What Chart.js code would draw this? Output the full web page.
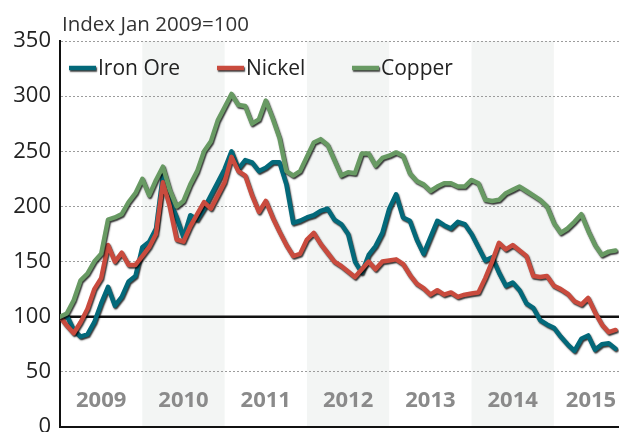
<!DOCTYPE html>
<html>
<head>
<meta charset="utf-8">
<script src="https://cdn.jsdelivr.net/npm/chart.js@4.4.0/dist/chart.umd.min.js"></script>
<style>
    html, body { margin: 0; padding: 0; background: #fff; }
</style>
</head>
<body>
<canvas id="metalsChart" width="619" height="432"></canvas>
<script>
// Données : indice mensuel, janv. 2009 = 100
const years = ['2009', '2010', '2011', '2012', '2013', '2014', '2015'];
const seriesNames = ['Iron Ore', 'Nickel', 'Copper'];
const yTicks = [0, 50, 100, 150, 200, 250, 300, 350];
const titleText = 'Index Jan 2009=100';

const ironOre = [
    100, 101, 88, 82, 84, 95, 112, 127, 110, 118, 132, 137,
    163, 168, 180, 228, 205, 190, 172, 192, 188, 198, 210, 222,
    234, 250, 234, 242, 240, 232, 235, 240, 240, 220, 185, 187,
    190, 192, 196, 198, 188, 184, 175, 150, 140, 156, 164, 176,
    198, 211, 190, 187, 170, 157, 172, 187, 183, 180, 186, 184,
    175, 163, 151, 154, 140, 128, 131, 124, 112, 108, 97, 93,
    90, 82, 75, 69, 80, 83, 70, 75, 76, 71
];
const nickel = [
    100, 92, 85, 95, 107, 125, 135, 165, 150, 158, 147, 147,
    155, 163, 175, 222, 200, 170, 168, 182, 193, 204, 198, 210,
    222, 245, 232, 228, 210, 195, 205, 190, 177, 165, 155, 157,
    170, 176, 166, 158, 150, 146, 141, 136, 143, 150, 143, 150,
    151, 152, 148, 138, 130, 126, 120, 124, 120, 122, 118, 120,
    121, 122, 135, 150, 167, 161, 165, 160, 155, 137, 136, 137,
    128, 125, 121, 114, 111, 117, 104, 93, 86, 88
];
const copper = [
    100, 103, 115, 133, 139, 150, 157, 188, 190, 193, 204, 212,
    225, 210, 224, 236, 215, 200, 205, 220, 232, 250, 259, 278,
    290, 302, 292, 291, 275, 279, 296, 280, 262, 232, 228, 232,
    245, 258, 261, 256, 242, 228, 231, 230, 248, 248, 237, 244,
    246, 249, 246, 230, 223, 220, 214, 218, 221, 221, 218, 218,
    224, 221, 206, 205, 206, 212, 215, 218, 214, 210, 206, 200,
    185, 176, 180, 186, 193, 178, 165, 156, 159, 160
];

const colors = ['#03697a', '#c94b3e', '#689a63'];

Chart.defaults.font.family = '"Open Sans", sans-serif';

// Ombre portée sous les courbes
const lineShadow = {
    id: 'lineShadow',
    beforeDatasetDraw(chart) {
        const ctx = chart.ctx;
        ctx.save();
        ctx.shadowColor = 'rgba(0, 0, 0, 0.8)';
        ctx.shadowBlur = 1.5;
        ctx.shadowOffsetX = 1;
        ctx.shadowOffsetY = 1.5;
    },
    afterDatasetDraw(chart) {
        chart.ctx.restore();
    }
};

// Bandes des années, ligne 100, libellés, légende, titre
const decor = {
    id: 'decor',
    beforeDraw(chart) {
        const { ctx, chartArea: a, scales: { x } } = chart;
        ctx.save();
        ctx.fillStyle = '#f3f5f4';
        years.forEach((yr, i) => {
            if (i % 2 === 0) return;
            const x0 = x.getPixelForValue(i * 12);
            const x1 = Math.min(x.getPixelForValue((i + 1) * 12), a.right);
            ctx.fillRect(x0, a.top, x1 - x0, a.bottom - a.top);
        });
        ctx.restore();
    },
    beforeDatasetsDraw(chart) {
        const { ctx, chartArea: a, scales: { x, y } } = chart;
        ctx.save();

        // ligne de référence 100
        const y100 = y.getPixelForValue(100);
        ctx.strokeStyle = '#111';
        ctx.lineWidth = 2.5;
        ctx.beginPath();
        ctx.moveTo(a.left, y100);
        ctx.lineTo(a.right, y100);
        ctx.stroke();

        // années
        ctx.font = 'bold 22px "Open Sans"';
        ctx.fillStyle = '#8a8a8a';
        ctx.textAlign = 'center';
        ctx.textBaseline = 'alphabetic';
        years.forEach((yr, i) => {
            let cx = x.getPixelForValue(i * 12 + 6);
            cx = Math.min(cx, a.right - 28);
            ctx.fillText(yr, cx, 407);
        });

        // titre
        ctx.font = '20.5px "Open Sans"';
        ctx.fillStyle = '#333';
        ctx.textAlign = 'left';
        ctx.fillText(titleText, 62, 31);

        // légende
        const legendX = [69, 217, 352];
        chart.data.datasets.forEach((ds, i) => {
            const lx = legendX[i];
            const ly = 68;
            ctx.save();
            ctx.shadowColor = 'rgba(0, 0, 0, 0.8)';
            ctx.shadowBlur = 1.5;
            ctx.shadowOffsetX = 1;
            ctx.shadowOffsetY = 1.5;
            ctx.strokeStyle = ds.borderColor;
            ctx.lineWidth = 4.5;
            ctx.beginPath();
            ctx.moveTo(lx, ly);
            ctx.lineTo(lx + 27, ly);
            ctx.stroke();
            ctx.restore();
            ctx.font = '21px "Open Sans"';
            ctx.fillStyle = '#222';
            ctx.fillText(ds.label, lx + 29, 75);
        });
        ctx.restore();
    }
};

const toPoints = arr => arr.map((v, i) => ({ x: i, y: v }));

const series = [ironOre, nickel, copper];

new Chart(document.getElementById('metalsChart'), {
    type: 'line',
    data: {
        datasets: series.map((arr, i) => ({
            label: seriesNames[i],
            data: toPoints(arr),
            borderColor: colors[i],
            backgroundColor: colors[i],
            borderWidth: 4.5,
            borderJoinStyle: 'round',
            borderCapStyle: 'round',
            pointRadius: 0,
            tension: 0,
            order: 2 - i
        }))
    },
    options: {
        responsive: false,
        animation: false,
        layout: { padding: { top: 41, bottom: 5, left: 0, right: 0 } },
        plugins: {
            legend: { display: false },
            tooltip: { enabled: false }
        },
        scales: {
            x: {
                type: 'linear',
                min: 0,
                max: 81.5,
                ticks: { display: false },
                grid: { display: false },
                border: { color: '#111', width: 2 },
                afterFit: s => { s.height = 0; }
            },
            y: {
                min: 0,
                max: 350,
                afterBuildTicks: s => { s.ticks = yTicks.map(v => ({ value: v })); },
                ticks: {
                    color: '#222',
                    font: { size: 22 },
                    padding: 9
                },
                grid: {
                    drawTicks: false,
                    color: c => (c.tick && (c.tick.value === 100 || c.tick.value === 0)) ? 'rgba(0,0,0,0)' : '#9c9c9c',
                    lineWidth: 1
                },
                border: { color: '#111', width: 2, dash: [2, 2] },
                afterFit: s => { s.width = 60; s.paddingTop = 0; s.paddingBottom = 0; }
            }
        }
    },
    plugins: [decor, lineShadow]
});
</script>
</body>
</html>
